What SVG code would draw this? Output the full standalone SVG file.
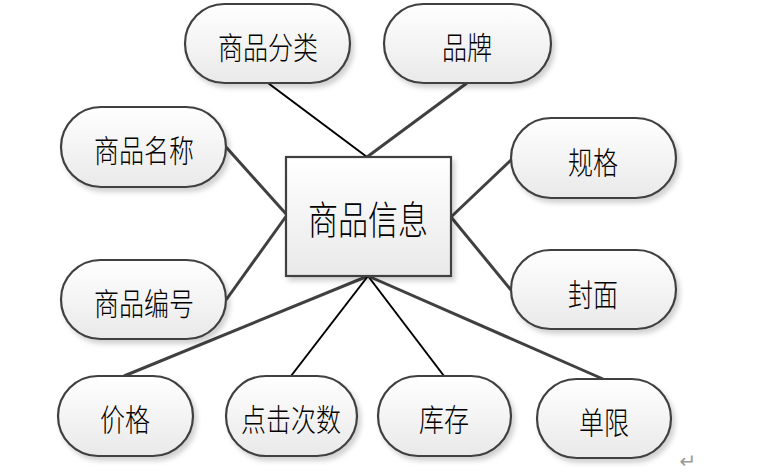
<svg xmlns="http://www.w3.org/2000/svg" width="782" height="474" viewBox="0 0 782 474">
<defs>
<linearGradient id="g" x1="0" y1="0" x2="0" y2="1">
<stop offset="0" stop-color="#ffffff"/>
<stop offset="1" stop-color="#e9e9e9"/>
</linearGradient>
<filter id="sh" x="-10%" y="-10%" width="125%" height="130%">
<feDropShadow dx="3" dy="4" stdDeviation="2.5" flood-color="#000" flood-opacity="0.18"/>
</filter>
<style>
.cap{fill:url(#g);stroke:#404040;stroke-width:2.2;filter:url(#sh)}
.box{fill:url(#g);stroke:#404040;stroke-width:2.2;filter:url(#sh)}
.t{font-family:"Noto Sans CJK SC","Noto Sans CJK JP",sans-serif;font-size:25px;font-weight:300;fill:#000;text-anchor:middle;dominant-baseline:central}
.tc{font-size:30px}
.thick{stroke:#404040;stroke-width:3;fill:none}
.thin{stroke:#000;stroke-width:2;fill:none}
</style>
</defs>
<rect width="782" height="474" fill="#fff"/>
<g id="connectors">
<line class="thin" x1="268" y1="83" x2="367" y2="157"/>
<line class="thick" x1="467" y1="83" x2="367" y2="157"/>
<line class="thick" x1="226" y1="147" x2="287" y2="215"/>
<line class="thick" x1="226" y1="300" x2="287" y2="215"/>
<line class="thick" x1="511" y1="160" x2="451" y2="217"/>
<line class="thick" x1="511" y1="290" x2="451" y2="217"/>
<line class="thick" x1="124" y1="376" x2="368" y2="276"/>
<line class="thin" x1="291" y1="376" x2="368" y2="276"/>
<line class="thin" x1="444" y1="376" x2="368" y2="276"/>
<line class="thick" x1="603" y1="379" x2="368" y2="276"/>
</g>
<g id="center">
<rect class="box" x="286" y="157" width="165" height="119"/>
<text class="t tc" transform="translate(368,217) scale(1,1.3)">商品信息</text>
</g>
<g id="n-fenlei">
<rect class="cap" x="185" y="4" width="165" height="79" rx="39.5"/>
<text class="t" transform="translate(268,45) scale(1,1.25)">商品分类</text>
</g>
<g id="n-pinpai">
<rect class="cap" x="384" y="4" width="167" height="79" rx="39.5"/>
<text class="t" transform="translate(467,45) scale(1,1.25)">品牌</text>
</g>
<g id="n-mingcheng">
<rect class="cap" x="61" y="107" width="165" height="80" rx="40"/>
<text class="t" transform="translate(144,148) scale(1,1.25)">商品名称</text>
</g>
<g id="n-bianhao">
<rect class="cap" x="61" y="260" width="165" height="79" rx="39.5"/>
<text class="t" transform="translate(144,301) scale(1,1.25)">商品编号</text>
</g>
<g id="n-guige">
<rect class="cap" x="511" y="118" width="165" height="80" rx="40"/>
<text class="t" transform="translate(593,160) scale(1,1.25)">规格</text>
</g>
<g id="n-fengmian">
<rect class="cap" x="511" y="250" width="165" height="79" rx="39.5"/>
<text class="t" transform="translate(593,292) scale(1,1.25)">封面</text>
</g>
<g id="n-jiage">
<rect class="cap" x="58" y="376" width="135" height="80" rx="40"/>
<text class="t" transform="translate(125,417) scale(1,1.25)">价格</text>
</g>
<g id="n-dianji">
<rect class="cap" x="226" y="376" width="131" height="80" rx="40"/>
<text class="t" transform="translate(291,417) scale(1,1.25)">点击次数</text>
</g>
<g id="n-kucun">
<rect class="cap" x="378" y="376" width="133" height="80" rx="40"/>
<text class="t" transform="translate(444,417) scale(1,1.25)">库存</text>
</g>
<g id="n-danxian">
<rect class="cap" x="537" y="379" width="134" height="79" rx="39.5"/>
<text class="t" transform="translate(604,420) scale(1,1.25)">单限</text>
</g>
<text x="688" y="468" style="font-family:'DejaVu Sans',sans-serif;font-size:20px;fill:#999" text-anchor="middle">↵</text>
</svg>
